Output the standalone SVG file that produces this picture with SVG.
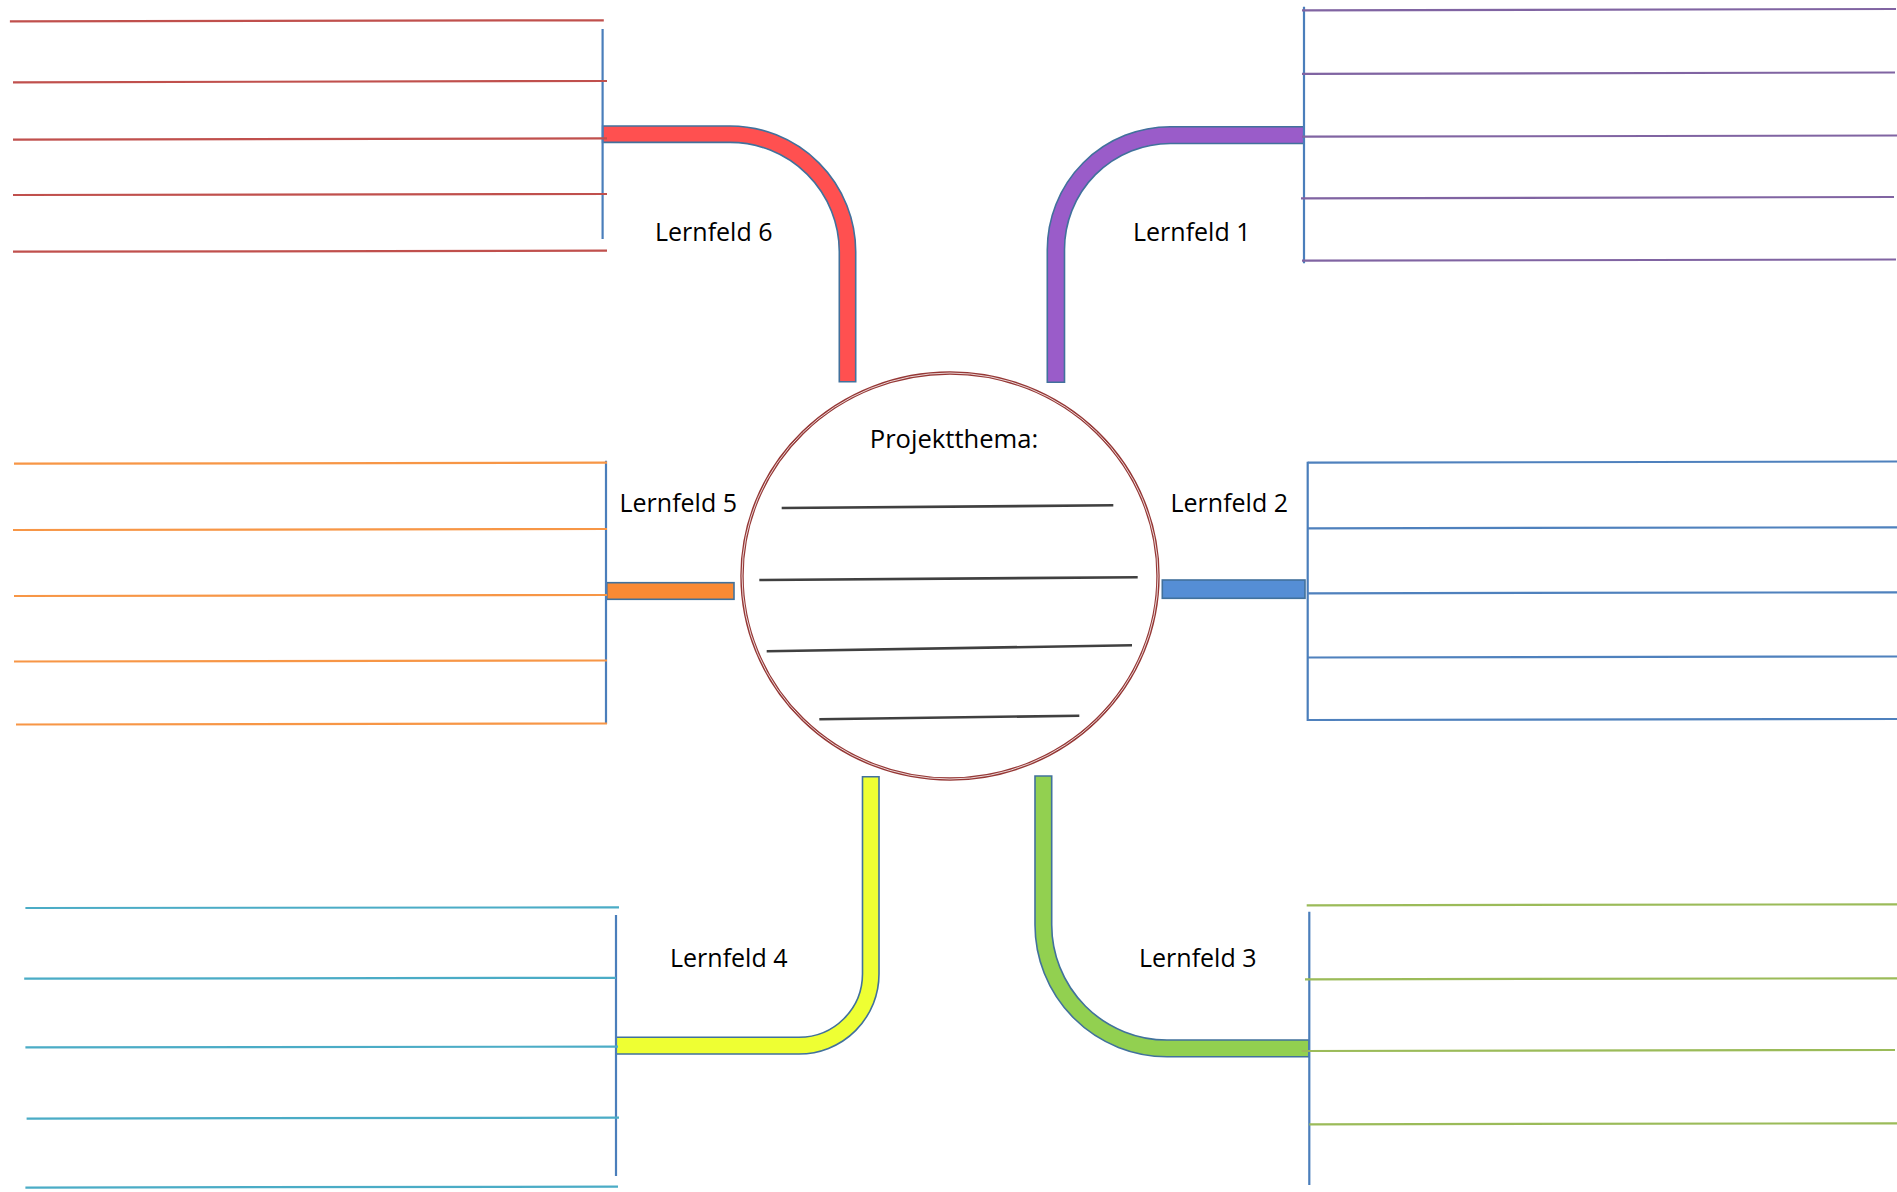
<svg xmlns="http://www.w3.org/2000/svg" width="1897" height="1192" viewBox="0 0 1897 1192">
  <style>
    .label { font-family: "Open Sans", "Liberation Sans", sans-serif; font-size: 25px; fill: #000000; }
    .rule { fill: none; stroke-width: 2.2; stroke-linecap: butt; }
    .spine { fill: none; stroke: #4a7ebb; stroke-width: 2.2; }
    .branch { stroke: #41719c; stroke-width: 1.6; stroke-linejoin: miter; }
    .red { stroke: #c0504d; }
    .purple { stroke: #8064a2; }
    .orange { stroke: #f79646; }
    .blue { stroke: #4f81bd; }
    .cyan { stroke: #4bacc6; }
    .green { stroke: #9bbb59; }
    .write { stroke: #404040; stroke-width: 2.6; fill: none; }
  </style>

  <rect x="0" y="0" width="1897" height="1192" fill="#ffffff"/>

  <!-- centre topic -->
  <g id="projektthema">
    <ellipse cx="950" cy="576" rx="208" ry="203" fill="#ffffff" stroke="#953735" stroke-width="3.4"/>
    <ellipse cx="950" cy="576" rx="208" ry="203" fill="none" stroke="#ffffff" stroke-width="0.8"/>
    <text class="label" x="954" y="448" text-anchor="middle" style="font-size:25.6px">Projektthema:</text>
    <line class="write" x1="781.7" y1="508" x2="1113.3" y2="505.3"/>
    <line class="write" x1="759.3" y1="580" x2="1137.7" y2="577.3"/>
    <line class="write" x1="766.7" y1="651.3" x2="1132" y2="645.3"/>
    <line class="write" x1="819.3" y1="719.3" x2="1079.3" y2="715.7"/>
  </g>

  <!-- branches from the centre to each field -->
  <g id="connectors">
    <path class="branch" fill="#ff5050" d="M602.6,126 H730 A125.7,125.7 0 0 1 855.7,251.7 V381.7 H839.3 V251.7 A109.3,109.3 0 0 0 730,142.4 H602.6 Z"/>
    <path class="branch" fill="#9a5cc9" d="M1304,126.7 H1170.3 A123,123 0 0 0 1047.3,249.7 V382.3 H1064.5 V249.7 A106,106 0 0 1 1170.3,143.5 H1304 Z"/>
    <rect class="branch" fill="#558ed5" x="1162.3" y="580" width="142.7" height="18.3"/>
    <path class="branch" fill="#92d050" d="M1035,776 V924.7 A132,132 0 0 0 1167,1056.7 H1309 V1040 H1167 A115.3,115.3 0 0 1 1051.7,924.7 V776 Z"/>
    <path class="branch" fill="#eeff33" d="M879,776.7 V974 A80,80 0 0 1 799,1054 H616 V1037.3 H799 A63.5,63.5 0 0 0 862.5,974 V776.7 Z"/>
    <rect class="branch" fill="#f98a35" x="606.7" y="582.7" width="127.3" height="16.6"/>
  </g>

  <!-- Lernfeld 1 (top right) -->
  <g id="lernfeld1">
    <text class="label" x="1133" y="240.7">Lernfeld 1</text>
    <line class="spine" x1="1304" y1="6.7" x2="1304" y2="263.3"/>
    <line class="rule purple" x1="1302" y1="10.3" x2="1896" y2="9"/>
    <line class="rule purple" x1="1302" y1="73.8" x2="1895" y2="72.5"/>
    <line class="rule purple" x1="1302" y1="136.7" x2="1897" y2="135.5"/>
    <line class="rule purple" x1="1301" y1="198.3" x2="1894" y2="197"/>
    <line class="rule purple" x1="1302" y1="260.7" x2="1896" y2="259.5"/>
  </g>

  <!-- Lernfeld 2 (right) -->
  <g id="lernfeld2">
    <text class="label" x="1170.5" y="511.7">Lernfeld 2</text>
    <line class="spine" x1="1307.7" y1="461.7" x2="1307.7" y2="721"/>
    <line class="rule blue" x1="1307.7" y1="462.7" x2="1897" y2="461.5"/>
    <line class="rule blue" x1="1307.7" y1="528.3" x2="1897" y2="527.3"/>
    <line class="rule blue" x1="1307.7" y1="593.3" x2="1897" y2="592.3"/>
    <line class="rule blue" x1="1307.7" y1="657.5" x2="1897" y2="656.5"/>
    <line class="rule blue" x1="1307.7" y1="720" x2="1897" y2="719"/>
  </g>

  <!-- Lernfeld 3 (bottom right) -->
  <g id="lernfeld3">
    <text class="label" x="1139" y="966.7">Lernfeld 3</text>
    <line class="spine" x1="1309.3" y1="911.7" x2="1309.3" y2="1185"/>
    <line class="rule green" x1="1306.7" y1="905.3" x2="1897" y2="904.3"/>
    <line class="rule green" x1="1305" y1="979.3" x2="1897" y2="978.3"/>
    <line class="rule green" x1="1301.7" y1="1051" x2="1895" y2="1050"/>
    <line class="rule green" x1="1309.3" y1="1124.3" x2="1897" y2="1123.3"/>
  </g>

  <!-- Lernfeld 4 (bottom left) -->
  <g id="lernfeld4">
    <text class="label" x="670" y="966.7">Lernfeld 4</text>
    <line class="spine" x1="616" y1="915" x2="616" y2="1176"/>
    <line class="rule cyan" x1="25.4" y1="908" x2="619" y2="907.4"/>
    <line class="rule cyan" x1="24.2" y1="978.6" x2="616" y2="977.8"/>
    <line class="rule cyan" x1="25.4" y1="1047.4" x2="618" y2="1046.6"/>
    <line class="rule cyan" x1="26.6" y1="1118.6" x2="619" y2="1117.6"/>
    <line class="rule cyan" x1="25.4" y1="1187.6" x2="618" y2="1186.6"/>
  </g>

  <!-- Lernfeld 5 (left) -->
  <g id="lernfeld5">
    <text class="label" x="619.5" y="511.7">Lernfeld 5</text>
    <line class="spine" x1="606" y1="460.7" x2="606" y2="724"/>
    <line class="rule orange" x1="14" y1="463.7" x2="607" y2="462.7"/>
    <line class="rule orange" x1="13" y1="530" x2="607" y2="529"/>
    <line class="rule orange" x1="14" y1="596" x2="607" y2="595"/>
    <line class="rule orange" x1="14" y1="661.5" x2="607" y2="660.5"/>
    <line class="rule orange" x1="16" y1="724.5" x2="607" y2="723.5"/>
  </g>

  <!-- Lernfeld 6 (top left) -->
  <g id="lernfeld6">
    <text class="label" x="655" y="241">Lernfeld 6</text>
    <line class="spine" x1="602.6" y1="29" x2="602.6" y2="239"/>
    <line class="rule red" x1="9.9" y1="21.3" x2="603.8" y2="20.3"/>
    <line class="rule red" x1="13" y1="82.3" x2="607" y2="81"/>
    <line class="rule red" x1="13" y1="139.7" x2="607" y2="138.3"/>
    <line class="rule red" x1="13" y1="195" x2="607" y2="194"/>
    <line class="rule red" x1="13" y1="251.7" x2="607" y2="250.7"/>
  </g>
</svg>
